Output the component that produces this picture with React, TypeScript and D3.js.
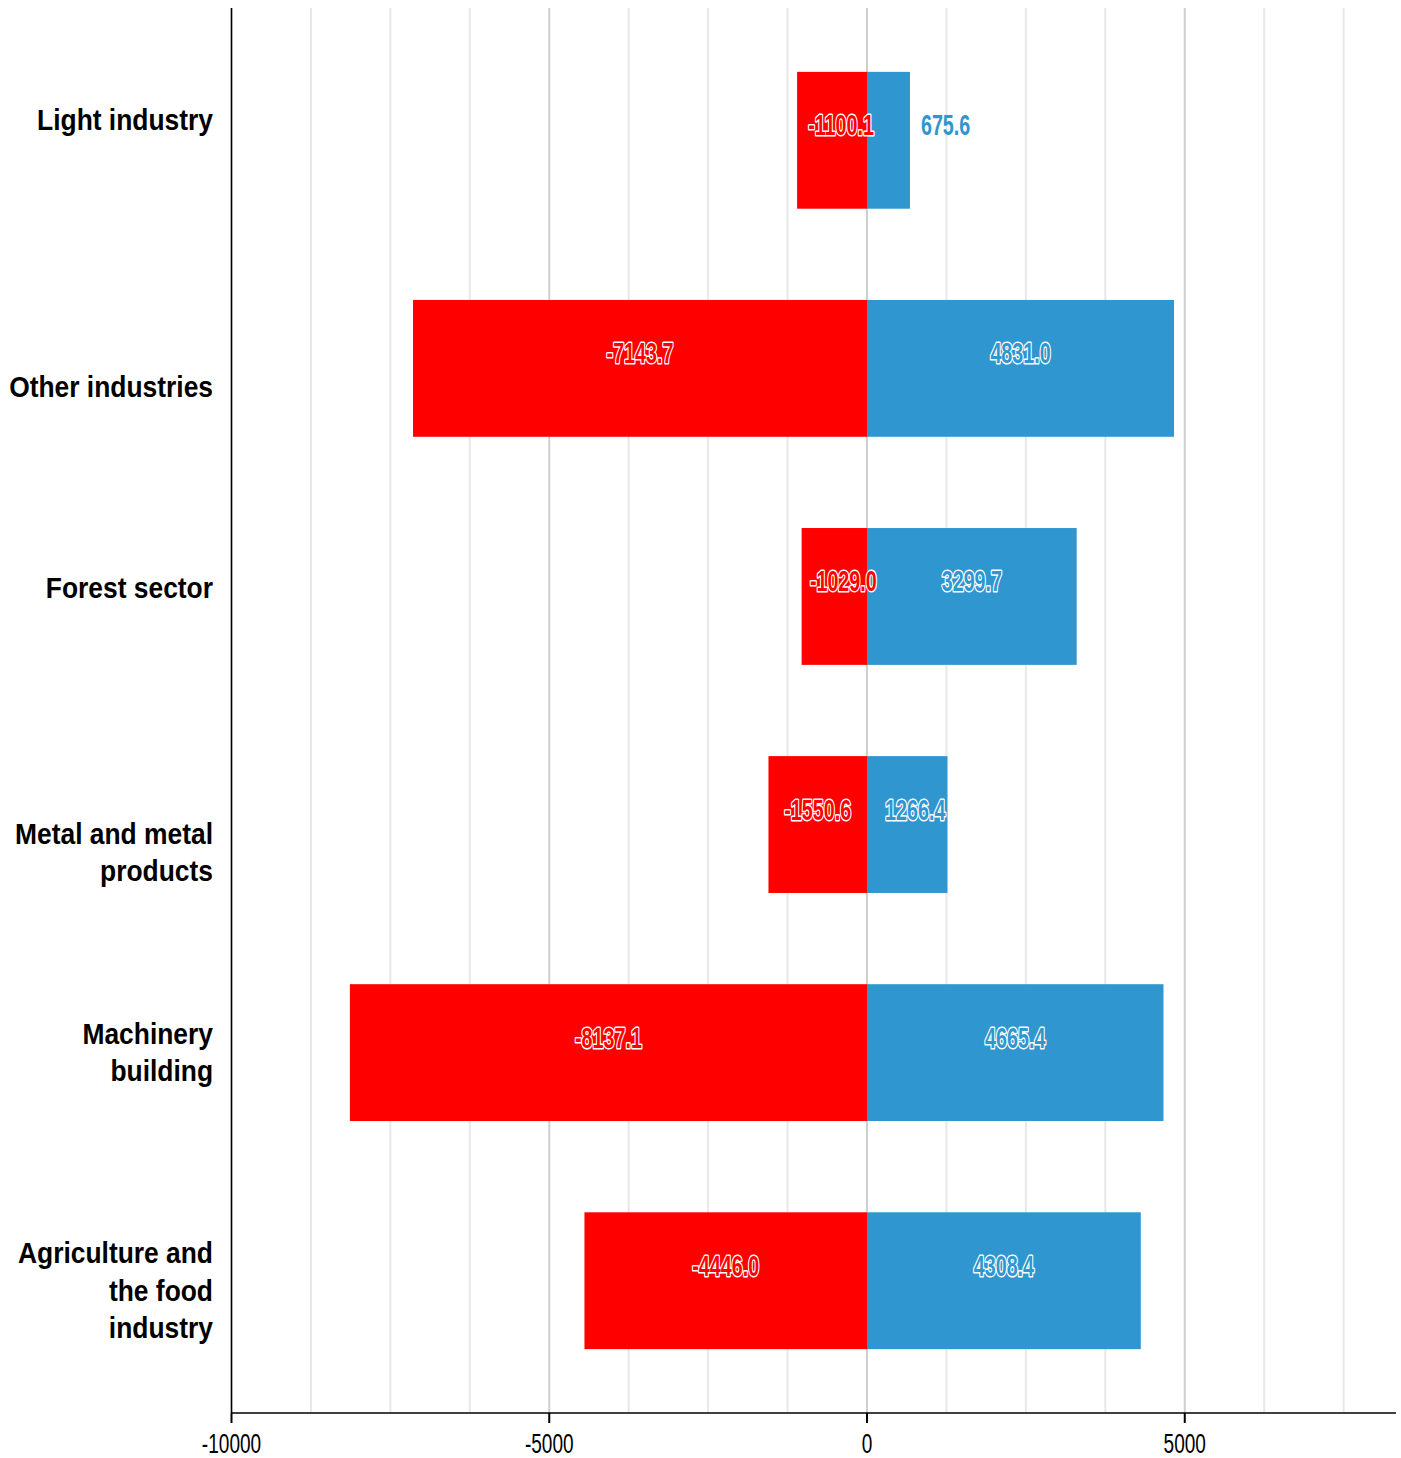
import React from "react";
import * as d3 from "d3";

const categories = [
  "Light industry",
  "Other industries",
  "Forest sector",
  "Metal and metal products",
  "Machinery building",
  "Agriculture and the food industry",
];
const categoryLines = [
  ["Light industry"],
  ["Other industries"],
  ["Forest sector"],
  ["Metal and metal", "products"],
  ["Machinery", "building"],
  ["Agriculture and", "the food", "industry"],
];
const negativeValues = [-1100.1, -7143.7, -1029.0, -1550.6, -8137.1, -4446.0];
const positiveValues = [675.6, 4831.0, 3299.7, 1266.4, 4665.4, 4308.4];
const xTicks = [-10000, -5000, 0, 5000];

// layout
const W = 1401;
const H = 1458;
const LEFT = 231.5;
const RIGHT = 1396;
const TOP = 8;
const BOTTOM = 1413;
const RED = "#ff0000";
const BLUE = "#2f96d0";
const FONT = "'Liberation Sans', Arial, sans-serif";
const catLabelShift = [-20, 19, -8, 28, 0, 10];

export default function App() {
  const x = d3.scaleLinear().domain([-10000, 8324]).range([LEFT, RIGHT]);
  const y = d3
    .scaleBand<string>()
    .domain(categories)
    .range([TOP, BOTTOM])
    .paddingInner(0.4)
    .paddingOuter(0.28);
  const bw = y.bandwidth();
  const grid = d3.range(-10000, 8324, 1250);
  const fmt = (v: number) => d3.format(".1f")(v).replace("\u2212", "-");
  const lh = 37.5;

  return (
    <svg
      width={W}
      height={H}
      style={{ position: "absolute", left: 0, top: 0, background: "#fff" }}
    >
      {grid.map((g) => (
        <line
          key={g}
          x1={x(g)}
          x2={x(g)}
          y1={TOP}
          y2={BOTTOM}
          stroke={g % 5000 === 0 ? "#cfcfcf" : "#e8e8e8"}
          strokeWidth={2}
        />
      ))}
      {categories.map((c, i) => {
        const y0 = y(c)!;
        return (
          <g key={c}>
            <rect
              x={x(negativeValues[i])}
              y={y0}
              width={x(0) - x(negativeValues[i])}
              height={bw}
              fill={RED}
            />
            <rect
              x={x(0)}
              y={y0}
              width={x(positiveValues[i]) - x(0)}
              height={bw}
              fill={BLUE}
            />
          </g>
        );
      })}
      {categories.map((c, i) => {
        const cy = y(c)! + bw / 2;
        const nw = x(0) - x(negativeValues[i]);
        const nx = (x(negativeValues[i]) + x(0)) / 2 + (nw < 85 ? 9 : 0);
        const pw = x(positiveValues[i]) - x(0);
        const inside = pw > 60;
        const px = inside
          ? (x(0) + x(positiveValues[i])) / 2 + (pw < 85 ? 8 : 0)
          : x(positiveValues[i]) + 11;
        return (
          <g key={c + "l"} fontFamily={FONT} fontWeight="bold" fontSize={29}>
            <text
              transform={`translate(${nx},${cy - 5}) scale(0.68,1)`}
              textAnchor="middle"
              fill={RED}
              stroke="#fff"
              strokeWidth={3}
              strokeLinejoin="round"
              paintOrder="stroke"
            >
              {fmt(negativeValues[i])}
            </text>
            <text
              transform={`translate(${px},${cy - 5}) scale(0.68,1)`}
              textAnchor={inside ? "middle" : "start"}
              fill={BLUE}
              stroke={inside ? "#fff" : "none"}
              strokeWidth={3}
              strokeLinejoin="round"
              paintOrder="stroke"
            >
              {fmt(positiveValues[i])}
            </text>
          </g>
        );
      })}
      {categories.map((c, i) => {
        const lines = categoryLines[i];
        const cy = y(c)! + bw / 2;
        const first = cy + 10 - ((lines.length - 1) * lh) / 2 + catLabelShift[i];
        return (
          <g key={c + "c"}>
            {lines.map((ln, j) => (
              <text
                key={j}
                transform={`translate(213,${first + j * lh}) scale(0.88,1)`}
                textAnchor="end"
                fontFamily={FONT}
                fontWeight="bold"
                fontSize={30}
                fill="#000"
              >
                {ln}
              </text>
            ))}
          </g>
        );
      })}
      <line x1={LEFT} x2={LEFT} y1={TOP} y2={BOTTOM} stroke="#000" strokeWidth={1.5} />
      <line x1={LEFT} x2={RIGHT} y1={BOTTOM} y2={BOTTOM} stroke="#000" strokeWidth={1.5} />
      {xTicks.map((t) => (
        <g key={t}>
          <line x1={x(t)} x2={x(t)} y1={BOTTOM} y2={BOTTOM + 10} stroke="#000" strokeWidth={2} />
          <text
            transform={`translate(${x(t)},1452.5) scale(0.68,1)`}
            textAnchor="middle"
            fontFamily={FONT}
            fontSize={28}
            fill="#000"
          >
            {t}
          </text>
        </g>
      ))}
    </svg>
  );
}
